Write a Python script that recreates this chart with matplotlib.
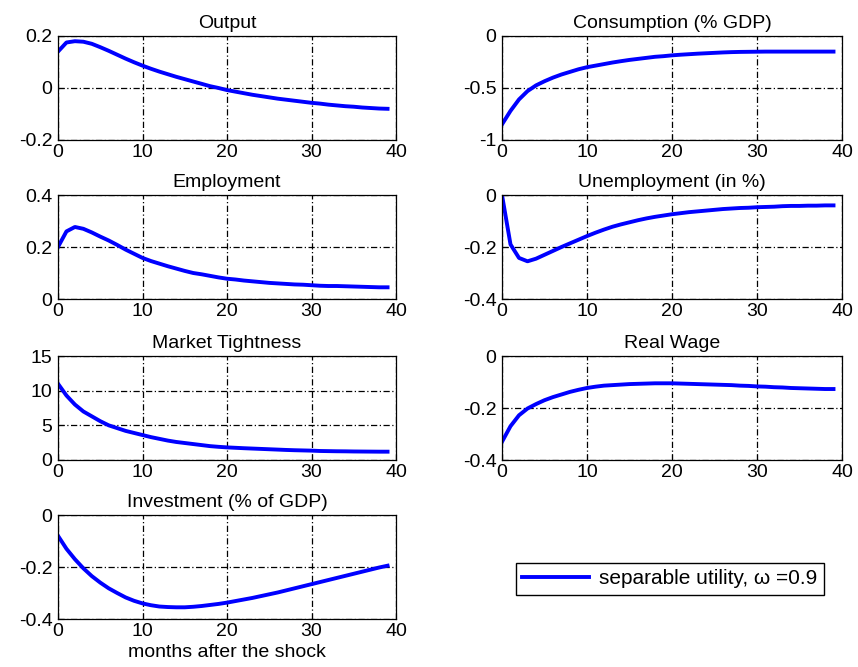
import numpy as np
import matplotlib
matplotlib.use('Agg')
import matplotlib.pyplot as plt

plt.rcParams['font.family'] = ['Liberation Sans', 'DejaVu Sans']
plt.rcParams['font.size'] = 14

months = np.arange(40)

output = [0.14, 0.175, 0.18, 0.178, 0.17, 0.157, 0.143, 0.128, 0.113, 0.099,
          0.086, 0.074, 0.063, 0.053, 0.043, 0.034, 0.025, 0.016, 0.007, 0.0,
          -0.008, -0.014, -0.02, -0.026, -0.031, -0.036, -0.041, -0.045, -0.049, -0.053,
          -0.057, -0.06, -0.064, -0.067, -0.07, -0.072, -0.075, -0.077, -0.079, -0.08]
consumption = [-0.85, -0.72, -0.61, -0.53, -0.475, -0.435, -0.4, -0.37, -0.345, -0.32,
               -0.3, -0.285, -0.27, -0.255, -0.242, -0.23, -0.22, -0.21, -0.2, -0.194,
               -0.186, -0.18, -0.175, -0.17, -0.166, -0.162, -0.158, -0.155, -0.153, -0.152,
               -0.151, -0.15, -0.15, -0.15, -0.15, -0.15, -0.15, -0.15, -0.15, -0.15]
employment = [0.2, 0.26, 0.277, 0.27, 0.256, 0.24, 0.225, 0.208, 0.19, 0.174,
              0.158, 0.146, 0.136, 0.126, 0.117, 0.108, 0.1, 0.095, 0.089, 0.083,
              0.078, 0.075, 0.071, 0.068, 0.065, 0.062, 0.06, 0.058, 0.056, 0.055,
              0.053, 0.051, 0.05, 0.05, 0.049, 0.048, 0.047, 0.046, 0.045, 0.045]
unemployment = [0.0, -0.19, -0.242, -0.255, -0.245, -0.23, -0.215, -0.2, -0.186, -0.172,
                -0.158, -0.145, -0.133, -0.122, -0.113, -0.105, -0.097, -0.09, -0.084, -0.079,
                -0.074, -0.07, -0.066, -0.063, -0.06, -0.057, -0.054, -0.052, -0.05, -0.049,
                -0.047, -0.046, -0.045, -0.043, -0.042, -0.042, -0.041, -0.041, -0.04, -0.04]
tightness = [11.0, 9.3, 8.0, 7.0, 6.3, 5.6, 5.0, 4.6, 4.2, 3.9,
             3.6, 3.3, 3.05, 2.8, 2.6, 2.45, 2.3, 2.15, 2.0, 1.9,
             1.82, 1.76, 1.7, 1.65, 1.6, 1.55, 1.5, 1.45, 1.41, 1.38,
             1.35, 1.3, 1.28, 1.26, 1.25, 1.23, 1.22, 1.21, 1.2, 1.2]
real_wage = [-0.33, -0.27, -0.228, -0.202, -0.185, -0.17, -0.158, -0.148, -0.138, -0.13,
             -0.123, -0.118, -0.114, -0.112, -0.11, -0.108, -0.107, -0.106, -0.105, -0.105,
             -0.105, -0.106, -0.107, -0.108, -0.109, -0.11, -0.111, -0.112, -0.114, -0.115,
             -0.117, -0.118, -0.12, -0.121, -0.123, -0.124, -0.125, -0.126, -0.127, -0.127]
investment = [-0.08, -0.13, -0.17, -0.205, -0.235, -0.26, -0.282, -0.3, -0.317, -0.33,
              -0.34, -0.347, -0.352, -0.354, -0.355, -0.355, -0.353, -0.35, -0.346, -0.342,
              -0.337, -0.331, -0.325, -0.319, -0.312, -0.305, -0.298, -0.29, -0.282, -0.274,
              -0.266, -0.258, -0.25, -0.242, -0.234, -0.226, -0.218, -0.21, -0.202, -0.195]

panels = [
    ('Output', output, (-0.2, 0.2), [-0.2, 0, 0.2], ['-0.2', '0', '0.2']),
    ('Consumption (% GDP)', consumption, (-1, 0), [-1, -0.5, 0], ['-1', '-0.5', '0']),
    ('Employment', employment, (0, 0.4), [0, 0.2, 0.4], ['0', '0.2', '0.4']),
    ('Unemployment (in %)', unemployment, (-0.4, 0), [-0.4, -0.2, 0], ['-0.4', '-0.2', '0']),
    ('Market Tightness', tightness, (0, 15), [0, 5, 10, 15], ['0', '5', '10', '15']),
    ('Real Wage', real_wage, (-0.4, 0), [-0.4, -0.2, 0], ['-0.4', '-0.2', '0']),
    ('Investment (% of GDP)', investment, (-0.4, 0), [-0.4, -0.2, 0], ['-0.4', '-0.2', '0']),
]

W, H = 858, 667
fig = plt.figure(figsize=(W / 100, H / 100), dpi=100)

lefts = [58, 502]
widths = [338, 340]
tops = [36, 195, 356, 515]
ah = 104

line = None
for i, (title, vals, ylim, yt, ytl) in enumerate(panels):
    r, c = divmod(i, 2)
    ax = fig.add_axes([lefts[c] / W, 1 - (tops[r] + ah) / H, widths[c] / W, ah / H])
    line, = ax.plot(months, vals, color='#0000ff', lw=2.8)
    ax.set_xlim(0, 40)
    ax.set_ylim(*ylim)
    ax.set_xticks([0, 10, 20, 30, 40])
    ax.set_yticks(yt)
    ax.set_yticklabels(ytl)
    ax.grid(True, color='black', linestyle=(0, (5, 2, 1, 2)), lw=0.9)
    ax.tick_params(direction='in', length=4, labelsize=14)
    ax.tick_params(axis='y', pad=4)
    ax.tick_params(axis='x', pad=3)
    ax.set_title(title, fontsize=14, pad=6)
    for s in ax.spines.values():
        s.set_linewidth(0.9)
    if i == 6:
        ax.set_xlabel('months after the shock', fontsize=14, labelpad=3)

fig.legend([line], ['separable utility, ω =0.9'], loc='center',
           bbox_to_anchor=(670 / W, 1 - 579 / H), fontsize=15,
           handlelength=3.2, handletextpad=0.5, fancybox=False,
           edgecolor='black', framealpha=1, borderpad=0.3)

fig.savefig('out.png', dpi=100)
